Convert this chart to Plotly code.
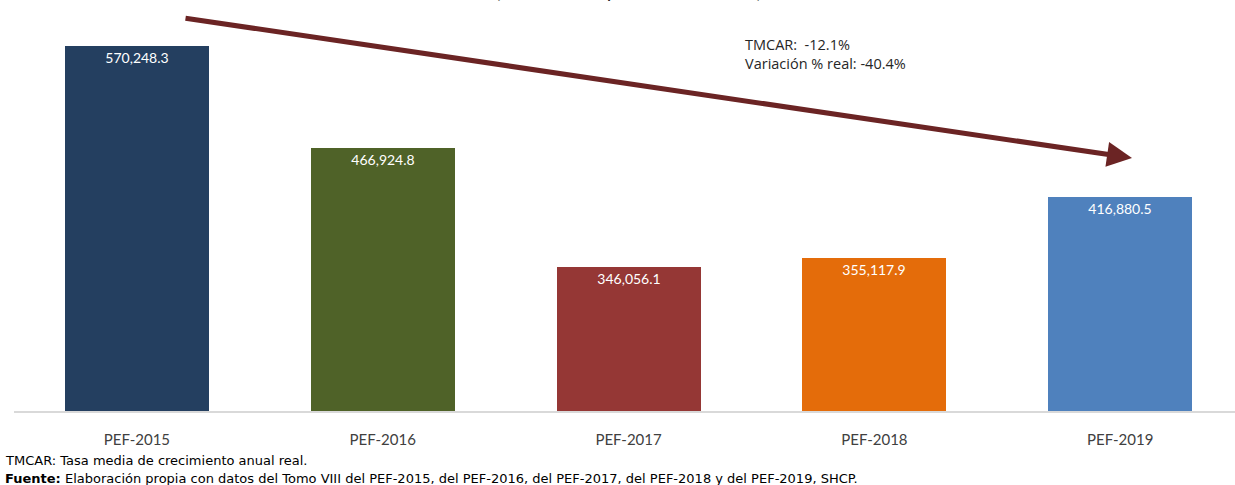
import plotly.graph_objects as go

categories = ["PEF-2015", "PEF-2016", "PEF-2017", "PEF-2018", "PEF-2019"]
values = [570248.3, 466924.8, 346056.1, 355117.9, 416880.5]
colors = ["#243F60", "#4F6228", "#953735", "#E46C0A", "#4F81BD"]

title_text = "(Millones de pesos constantes)"
note_text = "TMCAR:  -12.1%<br>Variación % real: -40.4%"
foot1 = "TMCAR: Tasa media de crecimiento anual real."
foot2 = "<b>Fuente:</b> Elaboración propia con datos del Tomo VIII del PEF-2015, del PEF-2016, del PEF-2017, del PEF-2018 y del PEF-2019, SHCP."

W, H = 1235, 485
L, R, T, B = 14, 0, 17, 74
pw = W - L - R
ph = H - T - B

def px(x):
    return (x - L) / pw

def py(y):
    return (H - B - y) / ph

FONT = "Lato, Carlito, 'Open Sans', sans-serif"
NOTE_FONT = "'Open Sans', sans-serif"
FOOT_FONT = "'DejaVu Sans', sans-serif"

fig = go.Figure()
fig.add_trace(go.Bar(
    x=categories, y=values,
    marker=dict(color=colors, line=dict(width=0)),
    width=0.586,
    texttemplate="%{y:,.1f}",
    textposition="inside",
    insidetextanchor="end",
    textfont=dict(color="white", size=14, family=FONT),
    cliponaxis=False,
    hoverinfo="skip",
))

fig.update_layout(
    width=W, height=H,
    margin=dict(l=L, r=R, t=T, b=B, pad=0),
    plot_bgcolor="white", paper_bgcolor="white",
    showlegend=False,
    bargap=0,
    font=dict(family=FONT, color="#404040"),
    xaxis=dict(
        range=[-0.5, 4.467],
        showline=True, linecolor="#D9D9D9", linewidth=2,
        showgrid=False, zeroline=False, ticks="",
        tickfont=dict(size=15, color="#404040", family=FONT),
        ticklabelstandoff=14,
    ),
    yaxis=dict(
        range=[200000, 600000],
        visible=False, showgrid=False, zeroline=False,
    ),
    annotations=[
        dict(xref="paper", yref="paper", x=px(1132), y=py(158),
             ax=184 - 1132, ay=18 - 158, axref="pixel", ayref="pixel",
             text="", showarrow=True, arrowhead=2, arrowsize=1.0,
             arrowwidth=5, arrowcolor="#6B2424", standoff=0, startstandoff=0),
        dict(xref="paper", yref="paper", x=px(628), y=py(4),
             xanchor="center", yanchor="bottom", showarrow=False,
             text=title_text, font=dict(size=20, color="#262626", family=FONT)),
        dict(xref="paper", yref="paper", x=px(743), y=py(33),
             xanchor="left", yanchor="top", align="left", showarrow=False,
             text=note_text, font=dict(size=14.5, color="#262626", family=NOTE_FONT)),
        dict(xref="paper", yref="paper", x=px(3), y=py(460),
             xanchor="left", yanchor="middle", align="left", showarrow=False,
             text=foot1, font=dict(size=13, color="#000000", family=FOOT_FONT)),
        dict(xref="paper", yref="paper", x=px(3), y=py(478),
             xanchor="left", yanchor="middle", align="left", showarrow=False,
             text=foot2, font=dict(size=13, color="#000000", family=FOOT_FONT)),
    ],
)

fig.write_html("out.html")
